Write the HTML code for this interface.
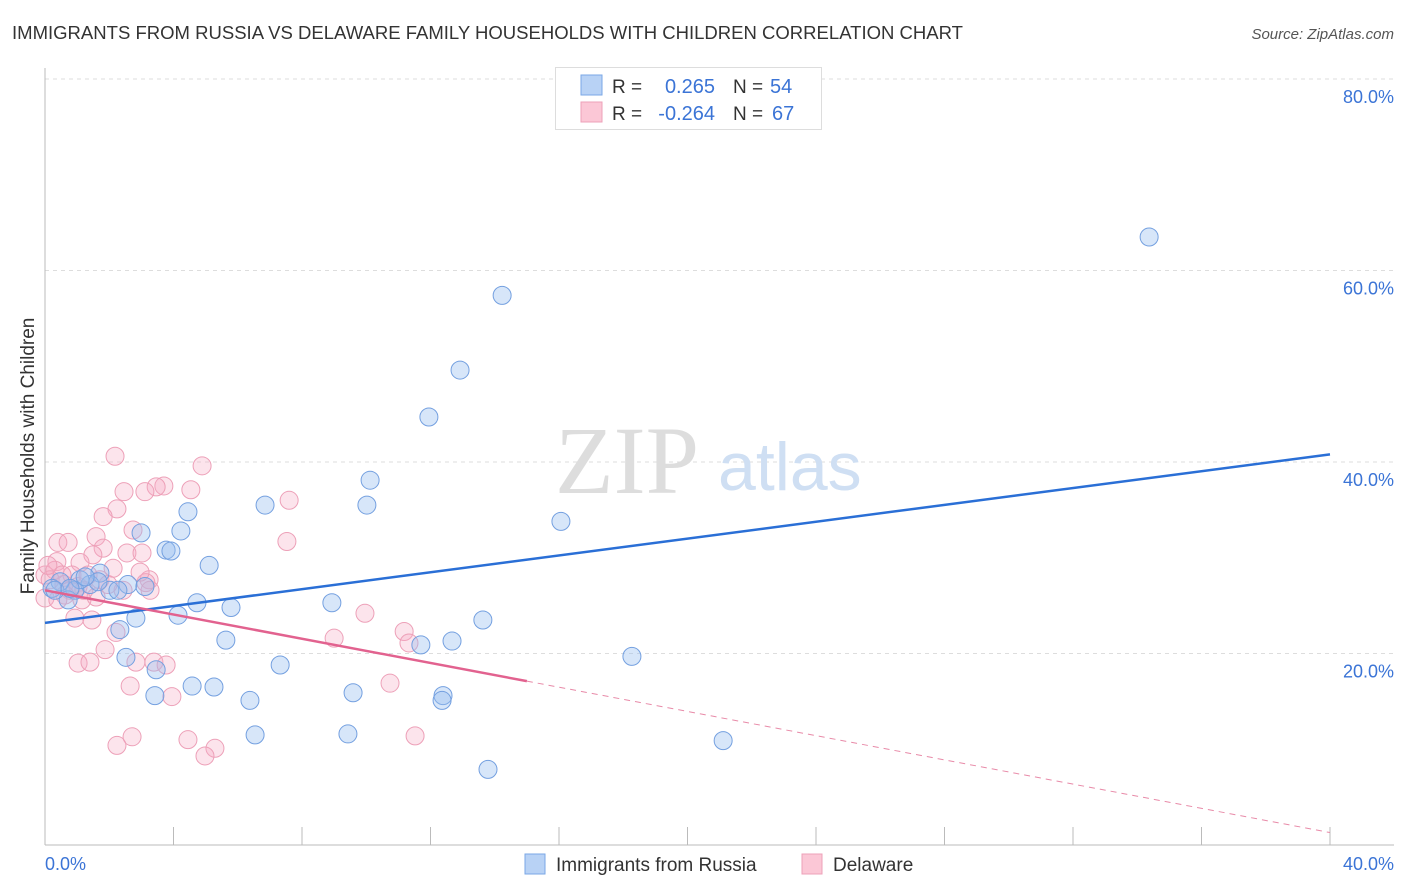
<!DOCTYPE html>
<html><head><meta charset="utf-8"><style>
body{margin:0;background:#fff;font-family:"Liberation Sans",sans-serif;}
svg{display:block}
</style></head><body>
<svg id="chart" width="1406" height="892" xmlns="http://www.w3.org/2000/svg">
<text x="12" y="39" font-size="18" fill="#333" textLength="951" lengthAdjust="spacingAndGlyphs">IMMIGRANTS FROM RUSSIA VS DELAWARE FAMILY HOUSEHOLDS WITH CHILDREN CORRELATION CHART</text>
<text x="1394" y="39" font-size="15" fill="#555" font-style="italic" text-anchor="end">Source: ZipAtlas.com</text>
<g id="grid"></g>
<line x1="45" y1="68" x2="45" y2="845" stroke="#bbb"/>
<line x1="45" y1="845" x2="1394" y2="845" stroke="#bbb"/>
<text x="555" y="493" font-size="96" fill="#ddd" font-family="Liberation Serif,serif">ZIP</text>
<text x="718" y="490" font-size="68" fill="#cfdff3">atlas</text>
<g id="ticks"></g>
<g id="pts"></g>
<g id="lines"></g>
<text x="34" y="456" font-size="19" fill="#333" text-anchor="middle" transform="rotate(-90 34 456)">Family Households with Children</text>
<text x="45" y="870" font-size="18" fill="#3b74d6">0.0%</text>
<text x="1394" y="870" font-size="18" fill="#3b74d6" text-anchor="end">40.0%</text>
<g>
<rect x="555.5" y="67.5" width="266" height="62" fill="#fff" stroke="#ddd"/>
<rect x="581" y="75" width="21" height="20" fill="#b8d2f5" stroke="#7aa7e6"/>
<rect x="581" y="102" width="21" height="20" fill="#fbc7d6" stroke="#eea0b8"/>
<text x="612" y="93" font-size="19" fill="#333">R = </text><text x="715" y="93" font-size="20" fill="#3b74d6" text-anchor="end">0.265</text>
<text x="733" y="93" font-size="19" fill="#333">N = </text><text x="770" y="93" font-size="20" fill="#3b74d6">54</text>
<text x="612" y="120" font-size="19" fill="#333">R = </text><text x="715" y="120" font-size="20" fill="#3b74d6" text-anchor="end">-0.264</text>
<text x="733" y="120" font-size="19" fill="#333">N = </text><text x="772" y="120" font-size="20" fill="#3b74d6">67</text>
</g>
<g>
<rect x="525" y="854" width="20" height="20" fill="#b8d2f5" stroke="#7aa7e6"/>
<text x="556" y="871" font-size="19" fill="#333">Immigrants from Russia</text>
<rect x="802" y="854" width="20" height="20" fill="#fbc7d6" stroke="#eea0b8"/>
<text x="833" y="871" font-size="19" fill="#333">Delaware</text>
</g>
</svg>
<script>
const yTicks=[20,40,60,80];
const xTickVals=[0,4,8,12,16,20,24,28,32,36,40];
const blueX=[34.37,14.23,12.92,11.95,10.12,10.02,6.85,4.45,4.23,2.99,3.77,3.92,5.11,16.06,4.73,5.79,8.93,13.63,12.67,11.70,4.14,2.83,2.33,5.63,2.52,3.46,7.32,18.27,3.42,4.58,5.26,6.38,9.59,12.39,12.36,6.54,9.43,21.11,13.79,1.71,1.40,0.93,0.47,2.02,2.58,3.11,2.27,0.22,0.72,0.31,1.09,1.65,0.78,1.25];
const blueY=[63.5,57.4,49.6,44.7,38.1,35.5,35.5,34.8,32.8,32.6,30.8,30.7,29.2,33.8,25.3,24.8,25.3,23.5,21.3,20.9,24.0,23.7,22.5,21.4,19.6,18.3,18.8,19.7,15.6,16.6,16.5,15.1,15.9,15.6,15.1,11.5,11.6,10.9,7.9,28.4,27.2,26.6,27.5,26.6,27.2,27.0,26.6,26.8,25.6,26.6,27.7,27.5,26.8,28.0];
const pinkX=[2.18,4.89,3.70,3.46,2.46,3.11,4.54,7.60,2.24,1.81,2.74,7.53,1.59,0.40,0.72,1.81,2.55,3.02,1.49,0.37,1.09,2.12,0.84,0.0,3.24,3.14,0.59,1.03,1.71,2.43,1.15,0.0,1.59,0.93,1.46,2.21,9.96,9.00,11.18,11.33,1.87,1.03,1.40,2.83,3.39,3.77,2.65,10.74,3.95,2.24,2.71,4.45,5.29,4.98,11.52,0.31,0.16,0.53,1.34,1.96,0.78,0.09,0.62,1.21,0.40,2.96,3.27];
const pinkY=[40.6,39.6,37.5,37.4,36.9,36.9,37.1,36.0,35.1,34.3,32.9,31.7,32.2,31.6,31.6,31.0,30.5,30.5,30.3,29.6,29.5,28.9,28.2,28.2,27.7,27.4,27.2,27.0,27.7,26.6,25.6,25.8,25.9,23.7,23.5,22.2,24.2,21.6,22.3,21.1,20.4,19.0,19.1,19.1,19.1,18.8,16.6,16.9,15.5,10.4,11.3,11.0,10.1,9.3,11.4,28.7,27.7,28.2,28.2,27.2,26.6,29.2,26.1,26.6,25.6,28.5,26.6];
const blueTrend=[23.2,40.8];
const pinkTrend=[26.6,1.3];
const pinkSolidEnd=15;
const NS="http://www.w3.org/2000/svg";
const sx=v=>45+v*1285/40;
const sy=v=>845-v*191.5/20;
function mk(tag,attrs,parent){const e=document.createElementNS(NS,tag);for(const k in attrs)e.setAttribute(k,attrs[k]);parent.appendChild(e);return e;}
const grid=document.getElementById('grid'),ticks=document.getElementById('ticks'),pts=document.getElementById('pts'),lines=document.getElementById('lines');
yTicks.forEach(t=>{
 const l=mk('line',{x1:45,x2:1394,y1:sy(t),y2:sy(t),stroke:'#ddd','stroke-dasharray':'4,4'},grid);
 
 
 const tx=mk('text',{x:1394,y:sy(t)+24,'font-size':18,fill:'#3b74d6','text-anchor':'end'},ticks);
 tx.textContent=t.toFixed(1)+'%';
 
 
});
xTickVals.forEach(t=>{
 const l=mk('line',{x1:sx(t),x2:sx(t),y1:827,y2:845,stroke:'#bbb'},ticks);
 
 
});
function drawPts(X,Y,fill,stroke,name){
 X.forEach((x,i)=>{
  const c=mk('circle',{cx:sx(x),cy:sy(Y[i]),r:9,fill:fill,stroke:stroke,'stroke-width':1},pts);
  
  
 });
}
drawPts(pinkX,pinkY,'rgba(246,170,195,0.32)','#eda0b8','point-delaware');
drawPts(blueX,blueY,'rgba(150,190,240,0.38)','#74a0e0','point-russia');
const bl=mk('line',{x1:sx(0),y1:sy(blueTrend[0]),x2:sx(40),y2:sy(blueTrend[1]),stroke:'#2a6fd6','stroke-width':2.5},lines);


const pm=pinkTrend[0]+(pinkTrend[1]-pinkTrend[0])*pinkSolidEnd/40;
const pl=mk('line',{x1:sx(0),y1:sy(pinkTrend[0]),x2:sx(pinkSolidEnd),y2:sy(pm),stroke:'#e2628f','stroke-width':2.5},lines);


const pd=mk('line',{x1:sx(pinkSolidEnd),y1:sy(pm),x2:sx(40),y2:sy(pinkTrend[1]),stroke:'#e88aa8','stroke-width':1,'stroke-dasharray':'6,5'},lines);


</script>
</body></html>
